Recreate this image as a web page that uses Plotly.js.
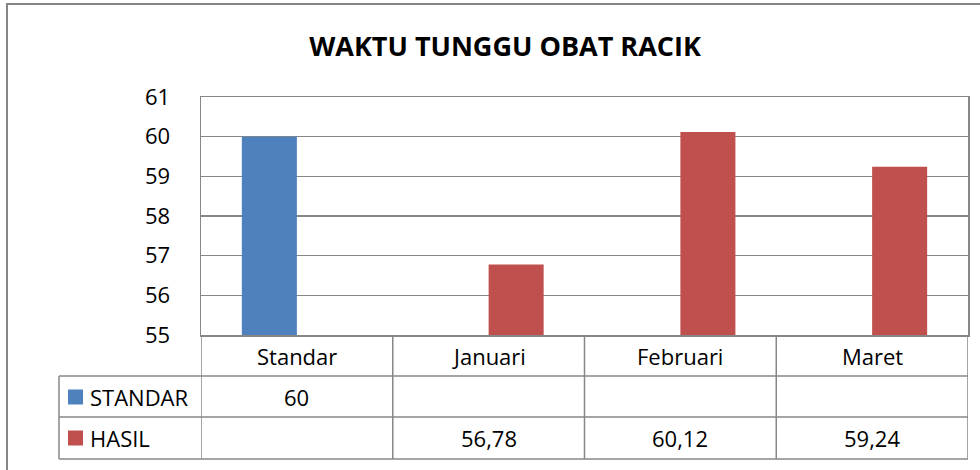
<!DOCTYPE html>
<html><head><meta charset="utf-8">
<script src="https://cdn.plot.ly/plotly-3.0.1.min.js"></script>
<style>html,body{margin:0;padding:0;background:#fff}#chart{width:980px;height:470px}</style>
</head><body><div id="chart"></div>
<script>
const categories = ['Standar', 'Januari', 'Februari', 'Maret'];
const seriesNames = ['STANDAR', 'HASIL'];
const standarValues = [60, null, null, null];
const hasilValues = [null, 56.78, 60.12, 59.24];
const yTicks = [55, 56, 57, 58, 59, 60, 61];
const chartTitle = 'WAKTU TUNGGU OBAT RACIK';

const colors = ['#4F81BD', '#C0504D'];
const lineCol = '#878787';
const FONT = 'Open Sans, Liberation Sans, sans-serif';
const FS = 22;

// layout geometry (pixels)
const W = 980, H = 470, L = 201, R = 12, T = 97, B = 135;
const pw = W - L - R, ph = H - T - B;
const px = p => (p - L) / pw;
const py = p => (H - B - p) / ph;

const series = [standarValues, hasilValues];
const traces = series.map((vals, s) => ({
  type: 'bar', x: categories, y: vals, name: seriesNames[s],
  marker: {color: colors[s]}, hoverinfo: 'skip'
}));

const rowHeader = 355.5, rowY = [397, 438];
const fmt = v => String(v).replace('.', ',');

const annotations = [];
categories.forEach((c, i) => annotations.push({
  x: i, xref: 'x', y: py(rowHeader), yref: 'paper', text: c, showarrow: false,
  xanchor: 'center', yanchor: 'middle', font: {family: FONT, size: FS, color: '#000'}
}));
seriesNames.forEach((n, s) => {
  annotations.push({
    x: px(88), xref: 'paper', y: py(rowY[s]), yref: 'paper', text: n, showarrow: false,
    xanchor: 'left', yanchor: 'middle', font: {family: FONT, size: FS, color: '#000'}
  });
  series[s].forEach((v, i) => {
    if (v === null) return;
    annotations.push({
      x: i, xref: 'x', y: py(rowY[s]), yref: 'paper', text: fmt(v), showarrow: false,
      xanchor: 'center', yanchor: 'middle', font: {family: FONT, size: FS, color: '#000'}
    });
  });
});

const shapes = [];
// outer frame
shapes.push({type: 'rect', xref: 'paper', yref: 'paper', x0: px(7), x1: px(995), y0: py(490), y1: py(4),
  line: {color: '#868686', width: 2}, fillcolor: 'rgba(0,0,0,0)'});
// table horizontal lines
[376, 417, 459].forEach(yy => shapes.push({type: 'line', xref: 'paper', yref: 'paper',
  x0: px(59), x1: 1, y0: py(yy), y1: py(yy), line: {color: lineCol, width: 1.5}}));
// table vertical lines at category boundaries
for (let k = 0; k <= categories.length; k++) {
  shapes.push({type: 'line', xref: 'x', yref: 'paper', x0: k - 0.5, x1: k - 0.5,
    y0: py(335), y1: py(459), line: {color: lineCol, width: 1.5}});
}
shapes.push({type: 'line', xref: 'paper', yref: 'paper', x0: px(59), x1: px(59),
  y0: py(376), y1: py(459), line: {color: lineCol, width: 1.5}});
// legend keys
rowY.forEach((yy, s) => shapes.push({type: 'rect', xref: 'paper', yref: 'paper',
  x0: px(68), x1: px(83), y0: py(yy + 7.5), y1: py(yy - 7.5), line: {width: 0}, fillcolor: colors[s]}));

const layout = {
  width: W, height: H,
  margin: {l: L, r: R, t: T, b: B, pad: 0},
  paper_bgcolor: '#fff', plot_bgcolor: '#fff',
  showlegend: false,
  barmode: 'group', bargap: 0.426, bargroupgap: 0,
  title: {text: '<b>' + chartTitle + '</b>', xref: 'container', yref: 'container',
    x: 505 / W, y: 1 - 47 / H, xanchor: 'center', yanchor: 'middle',
    font: {family: FONT, size: 27, color: '#000'}},
  xaxis: {type: 'category', range: [-0.5, categories.length - 0.5], showticklabels: false,
    showgrid: false, showline: true, linecolor: lineCol, linewidth: 1.5, mirror: true,
    ticks: '', zeroline: false, fixedrange: true},
  yaxis: {range: [55, 61], tickvals: yTicks, ticktext: yTicks.map(String),
    showgrid: true, gridcolor: lineCol, gridwidth: 1.5, showline: true, linecolor: lineCol,
    linewidth: 1.5, mirror: true, ticks: 'outside', ticklen: 0, ticklabelstandoff: 25,
    zeroline: false, tickfont: {family: FONT, size: FS, color: '#000'}, fixedrange: true},
  shapes: shapes, annotations: annotations
};

Plotly.newPlot('chart', traces, layout, {displayModeBar: false, staticPlot: true});
</script>
</body></html>
